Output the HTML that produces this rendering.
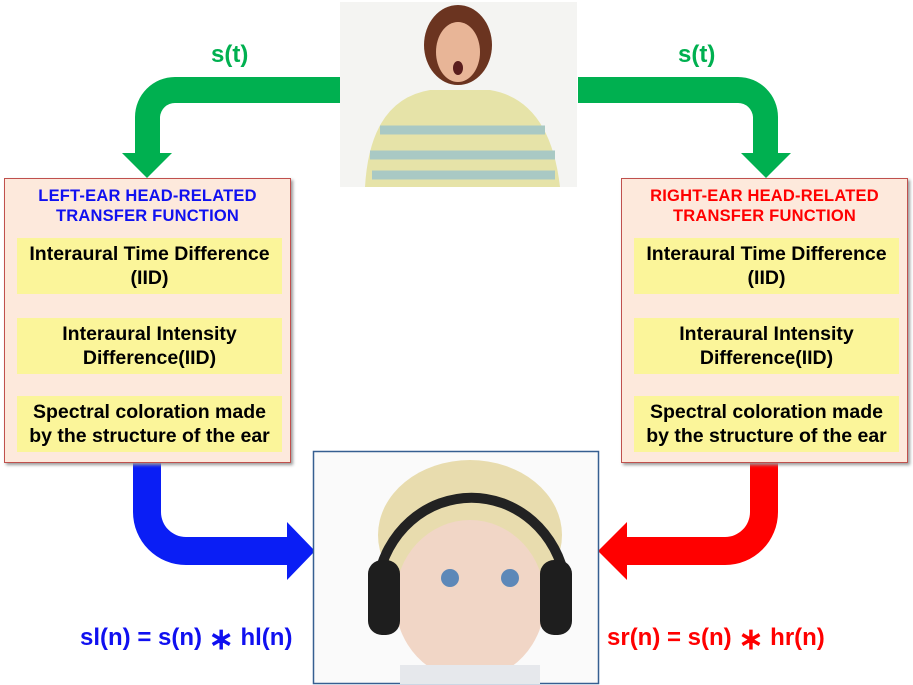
<!DOCTYPE html>
<html><head><meta charset="utf-8"><style>
body{margin:0;width:913px;height:685px;background:#fff;position:relative;overflow:hidden;font-family:"Liberation Sans",Arial,sans-serif}
.box{position:absolute;top:178px;width:285px;height:283px;background:#fde9dc;border:1px solid #c0504d;box-shadow:2px 2px 3px #999}
.t{position:absolute;top:7px;left:0;width:100%;text-align:center;font-weight:bold;font-size:16.5px;line-height:20px;letter-spacing:0.2px}
.y{position:absolute;left:12px;width:265px;height:56px;background:#fbf59a;font-weight:bold;font-size:19.5px;line-height:24px;text-align:center;display:flex;align-items:center;justify-content:center;white-space:nowrap}
.lbl{position:absolute;font-weight:bold;font-size:24px;white-space:nowrap}
</style></head><body>
<svg width="913" height="685" style="position:absolute;left:0;top:0">
<path d="M340 77 H175 A40 40 0 0 0 135 117 V153 H122 L147 178 L172 153 H160 V117 A15 15 0 0 1 175 103 H340 Z" fill="#00b050"/>
<path d="M578 77 H738 A40 40 0 0 1 778 117 V153 H791 L766 178 L741 153 H753 V117 A15 15 0 0 0 738 103 H578 Z" fill="#00b050"/>
<path d="M133 462 V512 A53 53 0 0 0 186 565 H287 V580 L315 551 L287 522 V537 H186 A25 25 0 0 1 161 512 V462 Z" fill="#0a1ef5"/>
<path d="M778 462 V512 A53 53 0 0 1 725 565 H627 V580 L598 551 L627 522 V537 H725 A25 25 0 0 0 750 512 V462 Z" fill="#ff0000"/>
<rect x="340" y="2" width="237" height="185" fill="#f4f4f2"/>
<path d="M365 187 Q370 100 430 90 L490 90 Q550 100 560 187 Z" fill="#e6e3a8"/>
<path d="M380 130 H545 M370 155 H555 M372 175 H555" stroke="#a9c9c4" stroke-width="9"/>
<ellipse cx="458" cy="45" rx="34" ry="40" fill="#6b3420"/>
<ellipse cx="458" cy="52" rx="22" ry="30" fill="#e8b597"/>
<ellipse cx="458" cy="68" rx="5" ry="7" fill="#5a1d1d"/>
<rect x="313.5" y="451.5" width="285" height="232" fill="#fafafa" stroke="#365f91" stroke-width="1.5"/>
<ellipse cx="470" cy="535" rx="92" ry="75" fill="#e8dcae"/>
<ellipse cx="470" cy="600" rx="75" ry="80" fill="#f1d6c6"/>
<path d="M378 580 A95 100 0 0 1 565 580" stroke="#222" stroke-width="10" fill="none"/>
<rect x="368" y="560" width="32" height="75" rx="14" fill="#1e1e1e"/>
<rect x="540" y="560" width="32" height="75" rx="14" fill="#1e1e1e"/>
<circle cx="450" cy="578" r="9" fill="#5d88b8"/><circle cx="510" cy="578" r="9" fill="#5d88b8"/>
<rect x="400" y="665" width="140" height="19" fill="#e6e8ec"/>
</svg>
<div class="lbl" style="left:211px;top:41px;color:#00b050">s(t)</div>
<div class="lbl" style="left:678px;top:41px;color:#00b050">s(t)</div>
<div class="box" style="left:4px">
<div class="t" style="color:#1010f0">LEFT-EAR HEAD-RELATED<br>TRANSFER FUNCTION</div>
<div class="y" style="top:59px">Interaural Time Difference<br>(IID)</div>
<div class="y" style="top:139px">Interaural Intensity<br>Difference(IID)</div>
<div class="y" style="top:217px">Spectral coloration made<br>by the structure of the ear</div>
</div>
<div class="box" style="left:621px">
<div class="t" style="color:#ff0000">RIGHT-EAR HEAD-RELATED<br>TRANSFER FUNCTION</div>
<div class="y" style="top:59px">Interaural Time Difference<br>(IID)</div>
<div class="y" style="top:139px">Interaural Intensity<br>Difference(IID)</div>
<div class="y" style="top:217px">Spectral coloration made<br>by the structure of the ear</div>
</div>
<div class="lbl" style="left:80px;top:618px;color:#1010f0">sl(n) = s(n) <span style="font-size:30px;position:relative;top:4px">∗</span> hl(n)</div>
<div class="lbl" style="left:607px;top:618px;color:#ff0000">sr(n) = s(n) <span style="font-size:30px;position:relative;top:4px">∗</span> hr(n)</div>
</body></html>
